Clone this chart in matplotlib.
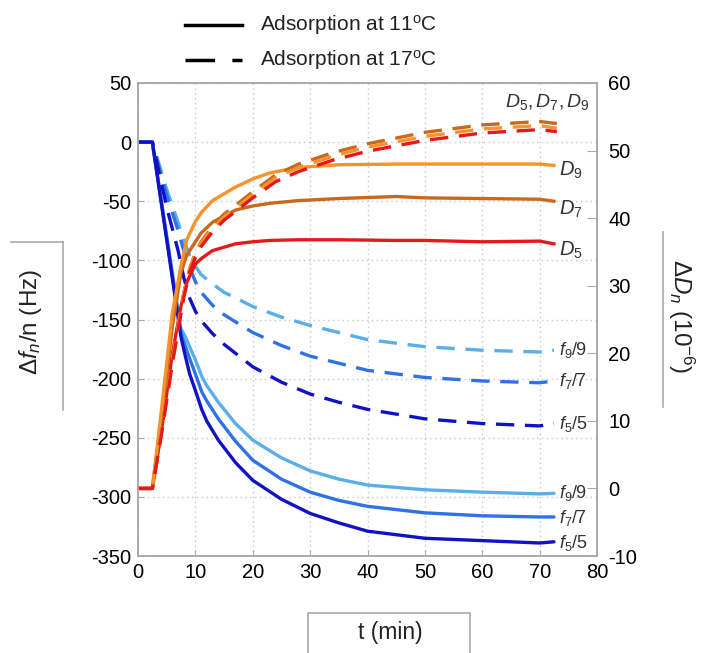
import matplotlib
matplotlib.use("Agg")
import matplotlib.pyplot as plt
from matplotlib.lines import Line2D
import numpy as np

plt.rcParams['font.family'] = ['Liberation Sans', 'DejaVu Sans']
plt.rcParams['mathtext.fontset'] = 'custom'
plt.rcParams['mathtext.rm'] = 'Liberation Sans'
plt.rcParams['mathtext.it'] = 'Liberation Sans:italic'
plt.rcParams['mathtext.bf'] = 'Liberation Sans:bold'
plt.rcParams['axes.unicode_minus'] = False

# ---------------- data ----------------
# Frequency shifts, adsorption at 11 C (solid)
t_f11 = [0, 2.5, 7.5, 8.2, 9, 10, 11.1, 12, 14, 17, 20, 25, 30, 35, 40, 50, 60, 70, 72.5]
f5_11 = [0, 0, -165, -180, -196, -210, -226, -236, -252, -271, -286, -302, -314, -322, -329, -335, -337, -339, -338]
f7_11 = [0, 0, -162, -172, -183, -196, -211, -219, -234, -253, -269, -285, -296, -303, -308, -313.5, -316, -317, -317]
f9_11 = [0, 0, -158, -164, -173, -184, -198, -206, -220, -238, -252, -267, -278, -285, -290, -294, -296, -297.5, -297]

# Frequency shifts, adsorption at 17 C (dashed)
t_f17 = [0, 2.5, 5, 7, 8, 9, 10, 11, 13, 15, 20, 25, 30, 35, 40, 50, 60, 70, 72.5]
f5_17 = [0, 0, -55, -92, -115, -132, -143, -151, -162, -171, -190, -203, -213, -220, -226, -234, -238, -240, -238]
f7_17 = [0, 0, -45, -75, -92, -106, -118, -127, -138, -146, -161, -172, -181, -187, -193, -199, -202, -203.5, -202]
f9_17 = [0, 0, -40, -68, -83, -96, -105, -112, -120, -127, -139, -148, -155, -161, -167, -173, -176, -177.5, -176]

# Dissipation shifts, adsorption at 11 C (solid)
t_d11 = [0, 2.5, 4, 6, 7.5, 8.5, 10, 11, 13, 17, 20, 23, 28, 35, 45, 50, 60, 70, 72.5]
D5_11 = [0, 0, 8, 20, 27, 30.5, 33.2, 34, 35.2, 36.2, 36.5, 36.7, 36.8, 36.8, 36.7, 36.7, 36.5, 36.6, 36.2]
D7_11 = [0, 0, 10, 24, 32, 34.5, 36.5, 37.8, 39.4, 41.2, 41.8, 42.2, 42.6, 42.9, 43.2, 43, 42.9, 42.8, 42.5]
D9_11 = [0, 0, 11, 26, 33, 36.8, 39.5, 40.8, 42.6, 44.6, 45.8, 46.7, 47.5, 47.9, 48, 48, 48, 48, 47.8]

# Dissipation shifts, adsorption at 17 C (dashed)
t_d17 = [0, 2.5, 4, 6, 7, 8, 9, 10, 11, 13, 15, 17, 20, 24, 28, 34, 40, 50, 60, 70, 73]
D5_17 = [0, 0, 7.5, 18.5, 23.5, 28.3, 32, 34.2, 35.8, 38, 39.7, 41, 43, 45.4, 46.9, 48.6, 49.9, 51.5, 52.6, 53.1, 52.8]
D7_17 = [0, 0, 8, 19, 24, 29, 32.5, 34.8, 36.5, 38.8, 40.6, 41.9, 43.9, 46.4, 48, 49.7, 51, 52.7, 53.8, 54.3, 54]
D9_17 = [0, 0, 8, 19, 24, 29, 32.5, 34.8, 36.3, 38.5, 40.2, 41.5, 43.5, 46, 47.5, 49.2, 50.5, 52.1, 53.2, 53.7, 53.3]

x_ticks = [0, 10, 20, 30, 40, 50, 60, 70, 80]
yl_ticks = [50, 0, -50, -100, -150, -200, -250, -300, -350]
yr_ticks = [60, 50, 40, 30, 20, 10, 0, -10]

# ---------------- styling ----------------
c_f5, c_f7, c_f9 = '#1212c4', '#2f72e6', '#5aaeea'
c_D5, c_D7, c_D9 = '#e4191b', '#c8691c', '#f8922a'
lw = 2.4
dash = (0, (5.5, 3.2))
spine_col = '#aaaaaa'

fig = plt.figure(figsize=(7.04, 6.53), dpi=100)
ax = fig.add_axes([138/704, 1-556/653, (597-138)/704, (556-83)/653])
ax2 = ax.twinx()

ax.plot(t_f11, f9_11, color=c_f9, lw=lw, solid_capstyle='round')
ax.plot(t_f11, f7_11, color=c_f7, lw=lw, solid_capstyle='round')
ax.plot(t_f11, f5_11, color=c_f5, lw=lw, solid_capstyle='round')
ax.plot(t_f17, f9_17, color=c_f9, lw=lw, ls=dash)
ax.plot(t_f17, f7_17, color=c_f7, lw=lw, ls=dash)
ax.plot(t_f17, f5_17, color=c_f5, lw=lw, ls=dash)

ax2.plot(t_d11, D5_11, color=c_D5, lw=lw)
ax2.plot(t_d11, D7_11, color=c_D7, lw=lw)
ax2.plot(t_d11, D9_11, color=c_D9, lw=lw)
ax2.plot(t_d17, D7_17, color=c_D7, lw=lw, ls=dash)
ax2.plot(t_d17, D9_17, color=c_D9, lw=lw, ls=dash)
ax2.plot(t_d17, D5_17, color=c_D5, lw=lw, ls=dash)

ax.set_xlim(0, 80)
ax.set_ylim(-350, 50)
ax2.set_ylim(-10, 60)
ax.set_xticks(x_ticks)
ax.set_yticks(yl_ticks)
ax2.set_yticks(yr_ticks)

ax.grid(True, color='#c8c8c8', ls=(0, (1, 2.5)), lw=1.0)
ax.set_axisbelow(True)
for a in (ax, ax2):
    for s in a.spines.values():
        s.set_color(spine_col)
        s.set_linewidth(1.2)
ax.tick_params(axis='both', direction='in', length=4, color=spine_col,
               labelsize=14.5, pad=5)
ax2.tick_params(axis='y', direction='in', length=7, color=spine_col,
                labelsize=14.5, pad=8)

# curve-end labels
tx = 73.3
lab_kw = dict(fontsize=13, va='center', ha='left', color='#333333')
dlab_kw = dict(fontsize=14.5, va='center', ha='left', color='#333333')
ax.text(tx, f9_17[-1], r'$f_9$/9', **lab_kw)
ax.text(tx, f7_17[-1], r'$f_7$/7', **lab_kw)
ax.text(tx, f5_17[-1], r'$f_5$/5', **lab_kw)
ax.text(tx, f9_11[-1], r'$f_9$/9', **lab_kw)
ax.text(tx, f7_11[-1] - 1, r'$f_7$/7', **lab_kw)
ax.text(tx, f5_11[-1] - 1, r'$f_5$/5', **lab_kw)
ax2.text(tx, D9_11[-1] - 0.8, r'$D_9$', **dlab_kw)
ax2.text(tx, D7_11[-1] - 1.2, r'$D_7$', **dlab_kw)
ax2.text(tx, D5_11[-1] - 1.0, r'$D_5$', **dlab_kw)
ax2.text(64.0, 57.2, r'$D_5, D_7, D_9$', fontsize=14, va='center', ha='left', color='#333333')

# axis labels with partial frames
fig.text(31/704, 1-322/653, r'$\Delta f_n$/n (Hz)', rotation=90, fontsize=17.5,
         ha='center', va='center', color='#222222')
fig.lines.append(Line2D([63/704, 63/704], [1-242/653, 1-410/653], transform=fig.transFigure,
                        color=spine_col, lw=1.2))
fig.lines.append(Line2D([11/704, 63/704], [1-242/653, 1-242/653], transform=fig.transFigure,
                        color=spine_col, lw=1.2))
fig.text(681/704, 1-316/653, r'$\Delta D_n$ (10$^{-6}$)', rotation=270, fontsize=17.5,
         ha='center', va='center', color='#222222')
fig.lines.append(Line2D([663/704, 663/704], [1-232/653, 1-407/653], transform=fig.transFigure,
                        color=spine_col, lw=1.2))
fig.text(390/704, 1-633/653, 't (min)', fontsize=16.5, ha='center', va='center', color='#222222')
fig.lines.append(Line2D([308/704, 308/704, 470/704, 470/704],
                        [0, 1-613/653, 1-613/653, 0], transform=fig.transFigure,
                        color=spine_col, lw=1.2))

# legend
fig.lines.append(Line2D([185/704, 242/704], [1-25/653, 1-25/653], transform=fig.transFigure,
                        color='black', lw=2.5))
fig.lines.append(Line2D([185/704, 242/704], [1-60/653, 1-60/653], transform=fig.transFigure,
                        color='black', lw=2.5, ls=(0, (8.5, 5))))
fig.text(260/704, 1-25/653, r'Adsorption at 11$^{\mathrm{o}}$C', fontsize=15,
         ha='left', va='center', color='#222222')
fig.text(260/704, 1-60/653, r'Adsorption at 17$^{\mathrm{o}}$C', fontsize=15,
         ha='left', va='center', color='#222222')

fig.savefig('out.png', dpi=100)
